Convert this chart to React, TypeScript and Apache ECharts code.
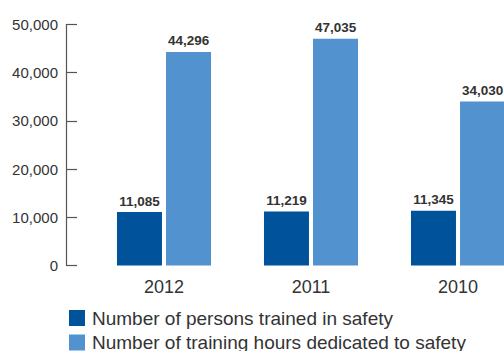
import React, { useEffect, useRef } from "react";
import * as echarts from "echarts";

const categories = ["2012", "2011", "2010"];
const personsTrained = [11085, 11219, 11345];
const trainingHours = [44296, 47035, 34030];
const seriesNames = [
  "Number of persons trained in safety",
  "Number of training hours dedicated to safety",
];
const yTicks = { min: 0, max: 50000, interval: 10000 };

const fmt = (v: number) => v.toLocaleString("en-US");
const FONT = "Liberation Sans, Arial, Helvetica, sans-serif";

export default function App() {
  const ref = useRef<HTMLDivElement>(null);
  useEffect(() => {
    if (!ref.current) return;
    const chart = echarts.init(ref.current, undefined, { renderer: "svg" });
    const labelStyle = {
      show: true,
      position: "top" as const,
      distance: 4,
      fontSize: 13.5,
      fontWeight: "bold" as const,
      color: "#333",
      fontFamily: FONT,
      formatter: (p: any) => fmt(p.value),
    };
    const legendBase = {
      orient: "horizontal",
      left: 69,
      itemWidth: 16,
      itemHeight: 16,
      icon: "rect",
      selectedMode: false,
      padding: 0,
      textStyle: { fontSize: 19, color: "#333", fontFamily: FONT, padding: [0, 0, 0, 2] },
    };
    chart.setOption({
      animation: false,
      textStyle: { fontFamily: FONT },
      grid: { left: 90.5, width: 441, top: 24.5, height: 241, outerBoundsMode: "none", containLabel: false },
      legend: [
        { ...legendBase, top: 308.5, data: [seriesNames[0]] },
        { ...legendBase, top: 333, data: [seriesNames[1]] },
      ],
      xAxis: {
        type: "category",
        data: categories,
        axisLine: { show: false },
        axisTick: { show: false },
        axisLabel: { fontSize: 18, color: "#333", margin: 12, fontFamily: FONT },
      },
      yAxis: {
        type: "value",
        min: yTicks.min,
        max: yTicks.max,
        interval: yTicks.interval,
        offset: 24.5,
        axisLine: { show: true, lineStyle: { color: "#555", width: 1.2 } },
        axisTick: { show: true, inside: true, length: 11, lineStyle: { color: "#555", width: 1.2 } },
        splitLine: { show: false },
        axisLabel: {
          fontSize: 15,
          color: "#333",
          margin: 8,
          fontFamily: FONT,
          formatter: (v: number) => fmt(v),
        },
      },
      series: [
        {
          name: seriesNames[0],
          type: "bar",
          data: personsTrained,
          barWidth: 45,
          barGap: "9%",
          itemStyle: { color: "#00529b" },
          label: labelStyle,
        },
        {
          name: seriesNames[1],
          type: "bar",
          data: trainingHours,
          barWidth: 45,
          barGap: "9%",
          itemStyle: { color: "#5192cf" },
          label: labelStyle,
        },
      ],
    });
    return () => chart.dispose();
  }, []);
  return (
    <div
      ref={ref}
      style={{ position: "absolute", left: 0, top: 0, width: 504, height: 351, background: "#fff" }}
    />
  );
}
